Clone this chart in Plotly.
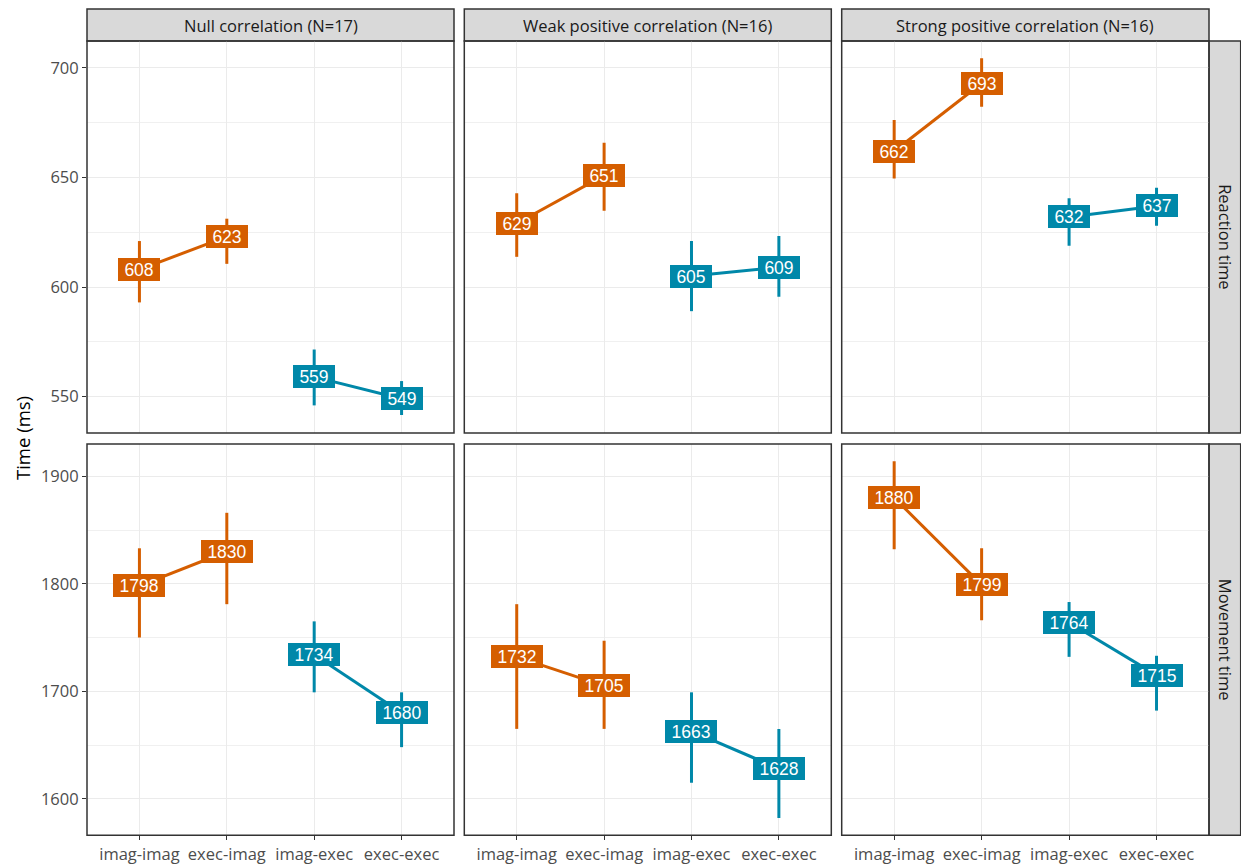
import plotly.graph_objects as go

W, H = 1241, 865

conditions = ["imag-imag", "exec-imag", "imag-exec", "exec-exec"]
panels = ["Null correlation (N=17)", "Weak positive correlation (N=16)", "Strong positive correlation (N=16)"]
measures = ["Reaction time", "Movement time"]

# Reaction time: means and interval bounds, per panel (null, weak, strong)
rt_mean = [[608, 623, 559, 549], [629, 651, 605, 609], [662, 693, 632, 637]]
rt_lo = [[593.0, 610.6, 546.0, 541.6], [613.8, 634.8, 589.0, 595.6], [649.6, 682.3, 618.9, 628.0]]
rt_hi = [[621.0, 631.2, 571.5, 557.1], [642.8, 665.9, 621.0, 623.3], [676.3, 704.4, 640.5, 645.3]]

# Movement time
mt_mean = [[1798, 1830, 1734, 1680], [1732, 1705, 1663, 1628], [1880, 1799, 1764, 1715]]
mt_lo = [[1750, 1781, 1699, 1648], [1665, 1665, 1615, 1582], [1832, 1766, 1732, 1682]]
mt_hi = [[1833, 1866, 1765, 1699], [1781, 1747, 1699, 1665], [1914, 1833, 1783, 1733]]

rt_ticks = [550, 600, 650, 700]
mt_ticks = [1600, 1700, 1800, 1900]
rt_range = [533.4, 712.3]
mt_range = [1566, 1930]

ORANGE = "#D55E00"
BLUE = "#0088A9"

# pixel geometry
col_x = [(87, 454), (464.3, 831.3), (841.7, 1209)]
row_y = [(41, 433), (444, 835.3)]
strip_top = 9
strip_right = (1209, 1240.7)

def px_x(p):
    return p / W

def px_y(p):
    return 1 - p / H

fig = go.Figure()

rows_data = [(rt_mean, rt_lo, rt_hi, rt_ticks, rt_range, 25),
             (mt_mean, mt_lo, mt_hi, mt_ticks, mt_range, 50)]

annotations = []
shapes = []
font_tick = dict(family="Open Sans", size=16.5, color="#4D4D4D")

for r, (means, los, his, ticks, yr, minor_dt) in enumerate(rows_data):
    for c in range(3):
        i = r * 3 + c + 1
        xa = "x" if i == 1 else f"x{i}"
        ya = "y" if i == 1 else f"y{i}"
        m = means[c]
        lo = los[c]
        hi = his[c]
        xs = [1, 2, 3, 4]
        for g, col in ((slice(0, 2), ORANGE), (slice(2, 4), BLUE)):
            gx = xs[g]
            gm = m[g]
            fig.add_trace(go.Scatter(
                x=gx, y=gm, mode="lines",
                line=dict(color=col, width=3),
                error_y=dict(type="data", symmetric=False,
                             array=[h - v for h, v in zip(hi[g], gm)],
                             arrayminus=[v - l for l, v in zip(lo[g], gm)],
                             color=col, thickness=3, width=0),
                xaxis=xa, yaxis=ya, showlegend=False, hoverinfo="skip"))
        for k in range(4):
            col = ORANGE if k < 2 else BLUE
            txt = str(m[k])
            annotations.append(dict(
                x=xs[k], y=m[k], xref=xa, yref=ya, text=txt, showarrow=False,
                font=dict(family="Liberation Sans", size=17.5, color="white"),
                bgcolor=col, bordercolor=col, borderwidth=1, borderpad=1,
                width=10 * len(txt) + 8, height=19, align="center", valign="middle"))
        x0, x1 = col_x[c]
        y0, y1 = row_y[r]
        fig.layout[f"xaxis{i}" if i > 1 else "xaxis"] = dict(
            domain=[px_x(x0), px_x(x1)], anchor=ya, range=[0.4, 4.6],
            tickvals=xs, ticktext=conditions if r == 1 else [""] * 4,
            showticklabels=(r == 1), ticks="outside" if r == 1 else "",
            ticklen=4, tickwidth=1.4, tickcolor="#333333",
            showgrid=True, gridcolor="#EBEBEB", gridwidth=1.4,
            zeroline=False, showline=False, tickfont=font_tick, fixedrange=True)
        fig.layout[f"yaxis{i}" if i > 1 else "yaxis"] = dict(
            domain=[px_y(y1), px_y(y0)], anchor=xa, range=yr,
            tickvals=ticks, showticklabels=(c == 0),
            ticks="outside" if c == 0 else "", ticklen=4, tickwidth=1.4,
            tickcolor="#333333",
            showgrid=True, gridcolor="#EBEBEB", gridwidth=1.4,
            minor=dict(dtick=minor_dt, tick0=0, showgrid=True, gridcolor="#F0F0F0", gridwidth=0.9),
            zeroline=False, showline=False, tickfont=font_tick, fixedrange=True)
        # panel border
        shapes.append(dict(type="rect", xref="paper", yref="paper",
                           x0=px_x(x0), x1=px_x(x1), y0=px_y(y1), y1=px_y(y0),
                           line=dict(color="#333333", width=1.5), fillcolor="rgba(0,0,0,0)", layer="above"))

# top strips
for c in range(3):
    x0, x1 = col_x[c]
    shapes.append(dict(type="rect", xref="paper", yref="paper",
                       x0=px_x(x0), x1=px_x(x1), y0=px_y(row_y[0][0]), y1=px_y(strip_top),
                       line=dict(color="#333333", width=1.5), fillcolor="#D9D9D9", layer="below"))
    annotations.append(dict(x=px_x((x0 + x1) / 2), y=px_y((strip_top + row_y[0][0]) / 2),
                            xref="paper", yref="paper", text=panels[c], showarrow=False,
                            font=dict(family="Open Sans", size=16.5, color="#1A1A1A"),
                            xanchor="center", yanchor="middle"))
# right strips
for r in range(2):
    y0, y1 = row_y[r]
    shapes.append(dict(type="rect", xref="paper", yref="paper",
                       x0=px_x(strip_right[0]), x1=px_x(strip_right[1]), y0=px_y(y1), y1=px_y(y0),
                       line=dict(color="#333333", width=1.5), fillcolor="#D9D9D9", layer="below"))
    annotations.append(dict(x=px_x(sum(strip_right) / 2), y=px_y((y0 + y1) / 2),
                            xref="paper", yref="paper", text=measures[r], showarrow=False,
                            textangle=90,
                            font=dict(family="Open Sans", size=16.5, color="#1A1A1A"),
                            xanchor="center", yanchor="middle"))

# y axis title
annotations.append(dict(x=px_x(22), y=px_y(438), xref="paper", yref="paper",
                        text="Time (ms)", showarrow=False, textangle=-90,
                        font=dict(family="Open Sans", size=18.5, color="black"),
                        xanchor="center", yanchor="middle"))

fig.update_layout(width=W, height=H, margin=dict(l=0, r=0, t=0, b=0),
                  paper_bgcolor="white", plot_bgcolor="white",
                  annotations=annotations, shapes=shapes, showlegend=False)

fig.write_html("out.html", config={"displayModeBar": False},
               post_script="document.body.style.margin='0';document.body.style.overflow='hidden';")
